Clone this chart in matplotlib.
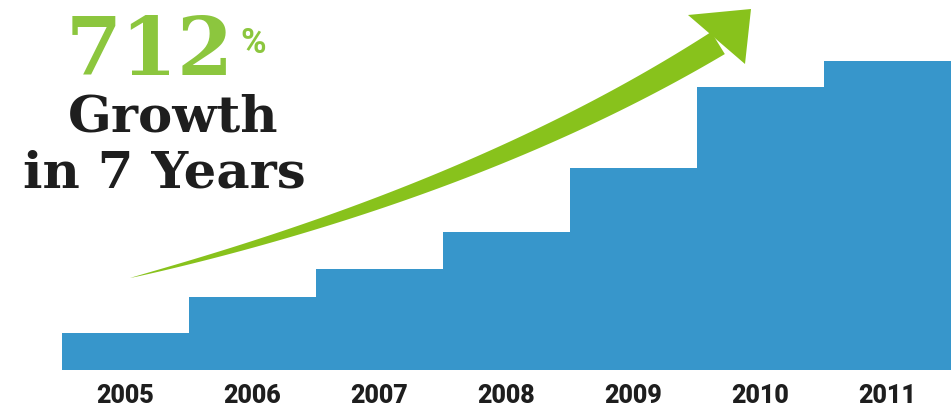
import numpy as np
import matplotlib
matplotlib.use('Agg')
import matplotlib.pyplot as plt
from matplotlib.patches import Polygon

years = ['2005', '2006', '2007', '2008', '2009', '2010', '2011']
values = [97, 192, 265, 363, 531, 744, 812]

blue = '#3796cb'
green = '#8cc63e'
dark = '#1e1e1e'

fig = plt.figure(figsize=(9.51, 4.08), dpi=100)
fig.patch.set_facecolor('white')

# bar area: baseline sits 38px above the bottom edge
ax = fig.add_axes([0, 38 / 408, 1, 370 / 408])
x = np.arange(len(years))
ax.bar(x, values, width=1.0, color=blue, linewidth=0)
ax.set_xlim(-0.5 - 62 / 127, 6.5)
ax.set_ylim(0, 972)
ax.set_xticks(x)
ax.set_xticklabels(years, fontsize=18, fontweight='heavy', color=dark,
                   family=['Roboto', 'DejaVu Sans'])
ax.tick_params(axis='x', length=0, pad=10)
ax.set_yticks([])
for s in ax.spines.values():
    s.set_visible(False)
ax.patch.set_alpha(0)

# overlay in pixel coords for the arrow and headline
ov = fig.add_axes([0, 0, 1, 1])
ov.set_xlim(0, 951)
ov.set_ylim(408, 0)
ov.axis('off')
ov.patch.set_alpha(0)

# tapered curved arrow (quadratic bezier centre line)
p0 = np.array([130, 278])
p1 = np.array([480, 190])
p2 = np.array([718, 43])
t = np.linspace(0, 1, 200)[:, None]
pts = (1 - t) ** 2 * p0 + 2 * (1 - t) * t * p1 + t ** 2 * p2
d = 2 * (1 - t) * (p1 - p0) + 2 * t * (p2 - p1)
d = d / np.linalg.norm(d, axis=1)[:, None]
nrm = np.column_stack([-d[:, 1], d[:, 0]])
w = 13 * t[:, 0] ** 0.8
upper = pts + nrm * w[:, None]
lower = pts - nrm * w[:, None]
shaft = np.vstack([upper, lower[::-1]])
arrow_green = '#88c21c'
ov.add_patch(Polygon(shaft, closed=True, color=arrow_green, lw=0))
ov.add_patch(Polygon([[688, 15], [751, 9], [745, 64]], closed=True,
                     color=arrow_green, lw=0))

# headline
ov.text(150, 75, '712', fontsize=58, fontweight='bold', color=green,
        family='DejaVu Serif', ha='center', va='baseline')
ov.text(253, 53, '%', fontsize=25, fontweight='bold', color=green,
        family=['Roboto', 'DejaVu Sans'], ha='center', va='baseline')
ov.text(173, 131, 'Growth', fontsize=37, fontweight='bold', color=dark,
        family='DejaVu Serif', ha='center', va='baseline')
ov.text(164, 187, 'in 7 Years', fontsize=37, fontweight='bold', color=dark,
        family='DejaVu Serif', ha='center', va='baseline')

fig.savefig('out.png', dpi=100)
